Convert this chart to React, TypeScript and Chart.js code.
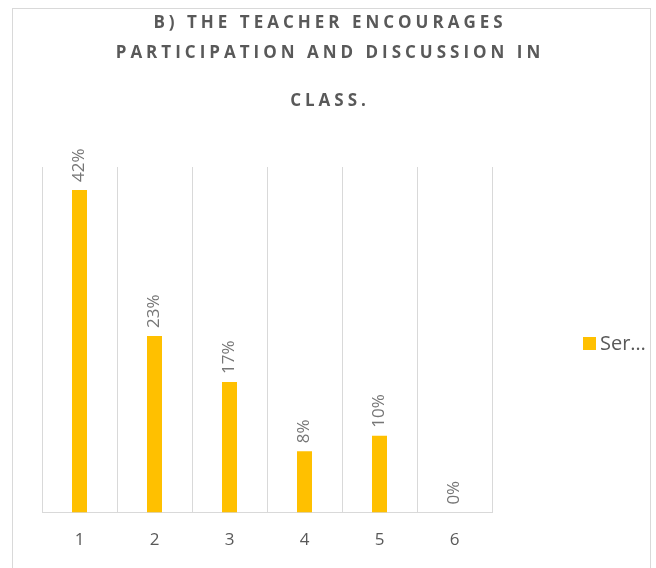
import React, { useEffect, useRef } from "react";
import { Chart, registerables } from "chart.js";

Chart.register(...registerables);

const categories = ["1", "2", "3", "4", "5", "6"];
const values = [42, 23, 17, 8, 10, 0];
const valueLabels = ["42%", "23%", "17%", "8%", "10%", "0%"];
const seriesName = "Ser…";
const titleLines = ["B) THE TEACHER ENCOURAGES", "PARTICIPATION AND DISCUSSION IN", "CLASS."];
const yMax = 45;

const FONT = "'Open Sans', 'Noto Sans', sans-serif";

export default function App() {
  const ref = useRef<HTMLCanvasElement | null>(null);

  useEffect(() => {
    const canvas = ref.current;
    if (!canvas) return;

    const overlay = {
      id: "overlay",
      afterDraw(chart: any) {
        const ctx = chart.ctx as CanvasRenderingContext2D;
        // Title
        ctx.save();
        ctx.fillStyle = "#595959";
        ctx.font = `bold 17px ${FONT}`;
        (ctx as any).letterSpacing = "4px";
        ctx.textAlign = "center";
        ctx.textBaseline = "middle";
        const ys = [23, 53, 101];
        titleLines.forEach((t, i) => ctx.fillText(t, 330, ys[i]));
        ctx.restore();

        // Data labels
        const meta = chart.getDatasetMeta(0);
        ctx.save();
        ctx.fillStyle = "#767676";
        ctx.font = `17px ${FONT}`;
        ctx.textAlign = "left";
        ctx.textBaseline = "middle";
        meta.data.forEach((bar: any, i: number) => {
          ctx.save();
          ctx.translate(bar.x, bar.y - 8);
          ctx.rotate(-Math.PI / 2);
          ctx.fillText(valueLabels[i], 0, 0);
          ctx.restore();
        });
        ctx.restore();

        // Legend
        ctx.save();
        ctx.fillStyle = "#FFC000";
        ctx.fillRect(583, 337, 13, 13);
        ctx.fillStyle = "#595959";
        ctx.font = `20px ${FONT}`;
        ctx.textAlign = "left";
        ctx.textBaseline = "middle";
        ctx.fillText(seriesName, 600, 344);
        ctx.restore();
      },
    };

    const chart = new Chart(canvas, {
      type: "bar",
      data: {
        labels: categories,
        datasets: [
          {
            label: seriesName,
            data: values,
            backgroundColor: "#FFC000",
            borderWidth: 0,
            categoryPercentage: 1,
            barPercentage: 0.2,
          },
        ],
      },
      options: {
        responsive: false,
        animation: false,
        events: [],
        layout: { padding: { top: 167, left: 42, right: 164, bottom: 1 } },
        plugins: {
          legend: { display: false },
          title: { display: false },
          tooltip: { enabled: false },
        },
        scales: {
          x: {
            grid: { display: true, color: "#d9d9d9", lineWidth: 1, drawTicks: false, offset: true },
            border: { display: true, color: "#d9d9d9", width: 1 },
            ticks: { color: "#595959", font: { family: FONT, size: 17 }, padding: 17 },
          },
          y: {
            display: false,
            min: 0,
            max: yMax,
          },
        },
      },
      plugins: [overlay],
    });

    return () => chart.destroy();
  }, []);

  return (
    <div
      style={{
        position: "fixed",
        left: 0,
        top: 0,
        width: 656,
        height: 568,
        overflow: "hidden",
        background: "#fff",
      }}
    >
      <div
        style={{
          position: "absolute",
          left: 12,
          top: 8,
          width: 639,
          height: 600,
          border: "1px solid #d9d9d9",
          boxSizing: "border-box",
        }}
      />
      <canvas ref={ref} width={656} height={568} style={{ position: "absolute", left: 0, top: 0 }} />
    </div>
  );
}
